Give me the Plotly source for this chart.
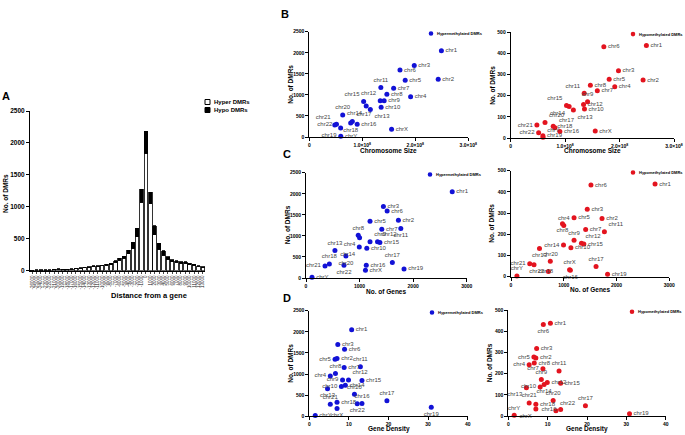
import plotly.graph_objects as go

W, H = 685, 435
FONT = "Arial, Liberation Sans, sans-serif"
BLUE = "#1212d6"
RED = "#e3141f"

# ---- panel A: DMRs by distance from nearest gene ----
dist_labels = [str(d) for d in range(-26000, 14000, 1000)]
hyper_bins = [6, 9, 11, 11, 9, 16, 23, 20, 20, 22, 29, 37, 45, 54, 62, 66, 74, 87, 96, 132,
              163, 195, 269, 349, 533, 1069, 1840, 1052, 560, 338, 243, 180, 144, 131, 119,
              116, 97, 87, 67, 53]
hypo_bins = [2, 3, 3, 3, 3, 4, 5, 5, 5, 5, 6, 8, 10, 11, 13, 14, 15, 17, 19, 25,
             30, 35, 55, 95, 130, 205, 340, 175, 140, 90, 70, 35, 28, 25, 22,
             22, 18, 17, 13, 10]

# ---- panels B-D: per chromosome ----
chroms = ["chr1", "chr2", "chr3", "chr4", "chr5", "chr6", "chr7", "chr8", "chr9", "chr10",
          "chr11", "chr12", "chr13", "chr14", "chr15", "chr16", "chr17", "chr18", "chr19",
          "chr20", "chr21", "chr22", "chrX", "chrY"]
chrom_size = [249250621, 243199373, 198022430, 191154276, 180915260, 171115067, 159138663,
              146364022, 141213431, 135534747, 135006516, 133851895, 115169878, 107349540,
              102531392, 90354753, 81195210, 78077248, 59128983, 63025520, 48129895,
              51304566, 155270560, 59373566]
gene_count = [2730, 1725, 1445, 1000, 1195, 1515, 1415, 975, 1195, 1135, 1770, 1335, 540,
              995, 1380, 1125, 1612, 436, 1830, 745, 355, 709, 1110, 112]
gene_density = [10.7, 7.0, 7.2, 5.3, 6.5, 8.9, 8.8, 6.6, 8.4, 8.1, 12.9, 9.9, 4.6, 9.1,
                13.3, 13.3, 19.6, 7.0, 30.8, 11.4, 5.3, 12.1, 7.0, 1.5]
hyper_dmrs = [2050, 1370, 1700, 955, 1350, 1590, 1155, 1015, 860, 705, 1175, 860, 655, 735,
              845, 305, 370, 330, 215, 520, 285, 300, 185, 20]
hypo_dmrs = [437, 274, 318, 242, 278, 432, 223, 250, 172, 137, 212, 158, 133, 149, 154, 31,
             48, 56, 11, 73, 61, 25, 33, 3]

size_ticks = [0, 1e8, 2e8, 3e8]
size_ticktext = ["0", "1.0×10<sup>8</sup>", "2.0×10<sup>8</sup>", "3.0×10<sup>8</sup>"]

# label placement (default: middle right)
pos_b_hyper = {"chr11": "top center", "chr12": "top left", "chr13": "bottom right",
               "chr14": "bottom left", "chr15": "top left", "chr17": "top right",
               "chr18": "bottom center", "chr19": "bottom left", "chr20": "top center",
               "chr21": "top left", "chr22": "middle left"}
pos_b_hypo = {"chr11": "top left", "chr9": "top center", "chr15": "top left",
              "chr14": "bottom left", "chr13": "bottom right", "chr20": "top right",
              "chr21": "middle left", "chr17": "top right", "chr22": "middle left",
              "chrY": "top right"}
pos_c_hyper = {"chr11": "bottom center", "chr8": "top center", "chr4": "bottom left",
               "chr9": "top right", "chr12": "top right", "chr14": "bottom left",
               "chr13": "top center", "chr20": "bottom center", "chr18": "top center",
               "chr21": "middle left", "chr22": "bottom center", "chr17": "top center"}
pos_c_hypo = {"chr4": "top center", "chr8": "bottom center", "chr11": "top right",
              "chr9": "top center", "chr12": "top right", "chr14": "middle left",
              "chr13": "bottom center", "chr20": "top center", "chr21": "middle left",
              "chr18": "bottom right", "chr17": "top center", "chrX": "top center",
              "chr16": "bottom center", "chr22": "middle left", "chrY": "top center"}
pos_d_hyper = {"chr5": "middle left", "chr11": "top center", "chr8": "top center",
               "chr4": "middle left", "chr9": "middle left", "chr12": "top right",
               "chr10": "middle left", "chr13": "bottom center", "chr20": "top center",
               "chr21": "top center", "chr16": "top center", "chr22": "bottom center",
               "chr17": "top center", "chr19": "bottom center", "chrX": "bottom center"}
pos_d_hypo = {"chr6": "bottom center", "chr5": "middle left", "chr4": "middle left",
              "chr7": "middle left", "chr11": "top center", "chr9": "top center",
              "chr10": "middle left", "chr14": "bottom center", "chr13": "bottom left",
              "chr20": "top center", "chr21": "top center", "chr17": "top center",
              "chrX": "bottom left", "chr16": "middle left", "chr22": "top right",
              "chrY": "top center"}


def px_x(v):
    return v / W


def px_y(v):
    return 1 - v / H


def note(text, x, y, size, xanchor="center", angle=0, color="black", family=FONT):
    return dict(text=text, x=px_x(x), y=px_y(y), xref="paper", yref="paper",
                xanchor=xanchor, yanchor="middle", showarrow=False, textangle=angle,
                font=dict(family=family, size=size, color=color))


fig = go.Figure()

# panel A stacked bars
fig.add_trace(go.Bar(x=dist_labels, y=hyper_bins, name="Hyper DMRs",
                     marker=dict(color="white", line=dict(color="black", width=0.8)),
                     xaxis="x", yaxis="y", showlegend=False))
fig.add_trace(go.Bar(x=dist_labels, y=hypo_bins, name="Hypo DMRs",
                     marker=dict(color="black", line=dict(color="black", width=0.8)),
                     xaxis="x", yaxis="y", showlegend=False))

axis_style = dict(showline=True, linecolor="black", linewidth=1, ticks="outside",
                  ticklen=3, tickwidth=1, tickcolor="black", showgrid=False,
                  zeroline=False, automargin=False,
                  tickfont=dict(family=FONT, size=5, color="black", weight="bold"))

layout = dict(
    width=W, height=H, margin=dict(l=0, r=0, t=0, b=0, autoexpand=False),
    paper_bgcolor="white", plot_bgcolor="white", barmode="stack", bargap=0.22,
    showlegend=False,
    xaxis=dict(domain=[px_x(30), px_x(205)], anchor="y", tickangle=-90, automargin=False,
               tickmode="linear", dtick=1,
               showline=True, linecolor="black", linewidth=1, ticks="outside", ticklen=2,
               tickfont=dict(family=FONT, size=4.5, color="#222"), showgrid=False),
    yaxis=dict(domain=[px_y(270.7), px_y(111)], anchor="x", range=[0, 2500], dtick=500,
               **{k: v for k, v in axis_style.items() if k != "tickfont"},
               tickfont=dict(family=FONT, size=6.5, color="black", weight="bold")),
)

# scatter panels: (x data, y data, color, legend, label positions, px box, x range, y max,
# x title, legend marker x)
panels = [
    (chrom_size, hyper_dmrs, BLUE, "Hypermethylated DMRs", pos_b_hyper,
     (309.3, 468.3, 137, 31.7), [0, 3e8], 2500, "Chromosome Size", 431),
    (chrom_size, hypo_dmrs, RED, "Hypomethylated DMRs", pos_b_hypo,
     (510.7, 674, 138, 32.3), [0, 3e8], 500, "Chromosome Size", 633),
    (gene_count, hyper_dmrs, BLUE, "Hypermethylated DMRs", pos_c_hyper,
     (306, 466.7, 278, 172.7), [0, 3000], 2500, "No. of Genes", 430),
    (gene_count, hypo_dmrs, RED, "Hypomethylated DMRs", pos_c_hypo,
     (511, 669.3, 276.7, 170.7), [0, 3000], 500, "No. of Genes", 633),
    (gene_density, hyper_dmrs, BLUE, "Hypermethylated DMRs", pos_d_hyper,
     (309.3, 467.7, 416.3, 310.7), [0, 40], 2500, "Gene Density", 432),
    (gene_density, hypo_dmrs, RED, "Hypomethylated DMRs", pos_d_hypo,
     (508.3, 665.7, 416, 310), [0, 40], 500, "Gene Density", 632),
]

annotations = []
shapes = []

for i, (xs, ys, col, leg, pos, box, xr, ymax, xtitle, lx) in enumerate(panels, start=2):
    x0, x1, yb, yt = box
    fig.add_trace(go.Scatter(
        x=xs, y=ys, mode="markers+text", text=chroms,
        textposition=[pos.get(c, "middle right") for c in chroms],
        textfont=dict(family=FONT, size=6, color="#444"),
        marker=dict(color=col, size=5), cliponaxis=False,
        xaxis=f"x{i}", yaxis=f"y{i}", showlegend=False))
    xa = dict(domain=[px_x(x0), px_x(x1)], anchor=f"y{i}", range=xr, **axis_style)
    if xr[1] == 3e8:
        xa.update(tickvals=size_ticks, ticktext=size_ticktext)
    elif xr[1] == 3000:
        xa.update(dtick=1000)
    else:
        xa.update(dtick=10)
    layout[f"xaxis{i}"] = xa
    layout[f"yaxis{i}"] = dict(domain=[px_y(yb), px_y(yt)], anchor=f"x{i}",
                               range=[0, ymax], dtick=ymax / 5, **axis_style)
    # axis titles
    annotations.append(note(f"<b>{xtitle}</b>", (x0 + x1) / 2, yb + 13, 6.5))
    annotations.append(note("<b>No. of DMRs</b>", x0 - 19, (yb + yt) / 2, 6.5, angle=-90))
    # in-panel legend: small dot + label
    ly = yt + 1.8
    shapes.append(dict(type="circle", xref="paper", yref="paper",
                       x0=px_x(lx - 2.3), x1=px_x(lx + 2.3), y0=px_y(ly + 2.3),
                       y1=px_y(ly - 2.3), fillcolor=col, line=dict(width=0)))
    annotations.append(note(f"<b>{leg}</b>", lx + 4, ly, 4, xanchor="left"))

# panel A titles and legend
annotations += [
    note("<b>No. of DMRs</b>", 5, 194, 6.5, angle=-90),
    note("<b>Distance from a gene</b>", 149, 295, 7.5),
    note("<b>Hyper DMRs</b>", 212, 102, 6, xanchor="left"),
    note("<b>Hypo DMRs</b>", 212, 110, 6, xanchor="left"),
]
shapes += [
    dict(type="rect", xref="paper", yref="paper", x0=px_x(205), x1=px_x(210),
         y0=px_y(104.5), y1=px_y(99.5), fillcolor="white", line=dict(color="black", width=1)),
    dict(type="rect", xref="paper", yref="paper", x0=px_x(205), x1=px_x(210),
         y0=px_y(112.5), y1=px_y(107.5), fillcolor="black", line=dict(color="black", width=1)),
]

# panel letters
for letter, lx, ly in [("A", 6, 96), ("B", 285, 14), ("C", 287, 154), ("D", 287, 298)]:
    annotations.append(note(f"<b>{letter}</b>", lx, ly, 11))

layout["annotations"] = annotations
layout["shapes"] = shapes
fig.update_layout(**layout)
# the page body has a default 8px margin; drop it so the figure sits at the window origin
fig.write_html("out.html", config={"displayModeBar": False},
               post_script="document.body.style.margin='0';")
